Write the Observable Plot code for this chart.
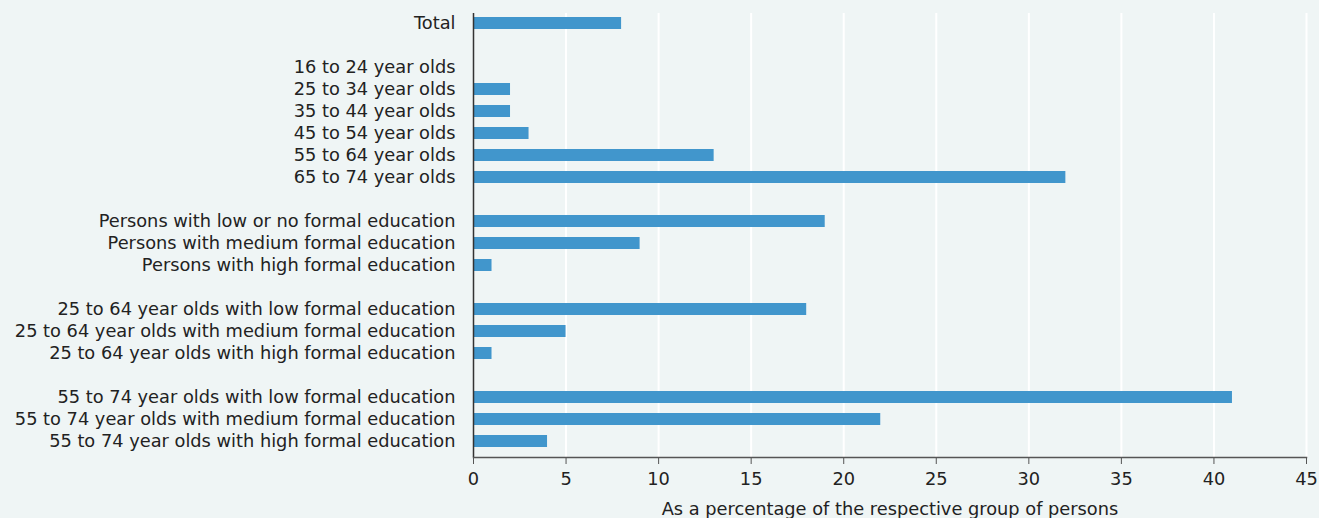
<!DOCTYPE html>
<html><head><meta charset="utf-8">
<script src="https://cdn.jsdelivr.net/npm/d3@7"></script>
<script src="https://cdn.jsdelivr.net/npm/@observablehq/plot@0.6"></script>
<style>
html,body{margin:0;padding:0;background:#eff5f5;}
#chart{width:1319px;height:518px;}
</style></head>
<body><div id="chart"></div>
<script>
const categories = [
  "Total", " ",
  "16 to 24 year olds", "25 to 34 year olds", "35 to 44 year olds", "45 to 54 year olds", "55 to 64 year olds", "65 to 74 year olds", "  ",
  "Persons with low or no formal education", "Persons with medium formal education", "Persons with high formal education", "   ",
  "25 to 64 year olds with low formal education", "25 to 64 year olds with medium formal education", "25 to 64 year olds with high formal education", "    ",
  "55 to 74 year olds with low formal education", "55 to 74 year olds with medium formal education", "55 to 74 year olds with high formal education"
];
const values = [
  8, null,
  null, 2, 2, 3, 13, 32, null,
  19, 9, 1, null,
  18, 5, 1, null,
  41, 22, 4
];
const xTicks = [0, 5, 10, 15, 20, 25, 30, 35, 40, 45];
const xLabel = "As a percentage of the respective group of persons";

const data = categories.map((c, i) => ({category: c, value: values[i]})).filter(d => d.value != null);

const fontFamily = "'DejaVu Sans', sans-serif";
const ctx = document.createElement("canvas").getContext("2d");
ctx.font = `16px ${fontFamily}`;
const w = ctx.measureText("55 to 74 year olds with medium formal education").width;
const fs = Math.round(16 * 441 / w * 10) / 10;

const chart = Plot.plot({
  width: 1319,
  height: 518,
  marginLeft: 473,
  marginRight: 13,
  marginTop: 13,
  marginBottom: 61,
  style: {background: "#eff5f5", fontFamily, fontSize: fs + "px", color: "#222"},
  x: {domain: [0, 45], ticks: xTicks},
  y: {domain: categories, paddingInner: 0.45, paddingOuter: 0.293, align: 0.3},
  marks: [
    Plot.gridX(xTicks.filter(t => t > 0), {stroke: "#ffffff", strokeOpacity: 1, strokeWidth: 2}),
    Plot.barX(data, {x: "value", y: "category", fill: "#4196cc"}),
    Plot.axisY({tickSize: 0, tickPadding: 18, label: null, fontSize: fs, fill: "#222"}),
    Plot.axisX({ticks: xTicks, tickSize: 7, tickPadding: 8, stroke: "#555", fill: "#222", label: xLabel, labelAnchor: "center", labelArrow: "none", labelOffset: 57, fontSize: fs}),
    Plot.ruleX([0], {stroke: "#333", strokeWidth: 1.5}),
    Plot.ruleY([0], {y: () => 0, stroke: "none"}),
    Plot.frame({anchor: "bottom", stroke: "#555", strokeWidth: 1.5})
  ]
});
document.getElementById("chart").appendChild(chart);
</script>
</body></html>
